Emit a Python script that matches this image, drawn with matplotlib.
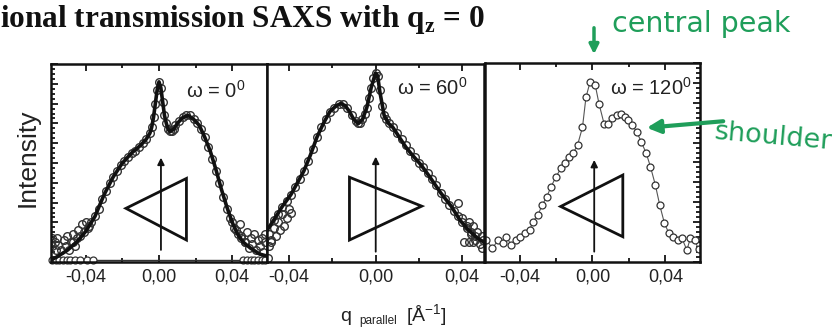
import matplotlib
matplotlib.use("Agg")
import matplotlib.pyplot as plt
from matplotlib.patches import Polygon, FancyArrowPatch
from matplotlib.ticker import MultipleLocator, FixedLocator, FuncFormatter

plt.rcParams['font.family'] = ['Liberation Sans', 'DejaVu Sans']
plt.rcParams['mathtext.fontset'] = 'custom'
plt.rcParams['mathtext.rm'] = 'Liberation Sans'
plt.rcParams['mathtext.it'] = 'Liberation Sans:italic'
plt.rcParams['mathtext.bf'] = 'Liberation Serif:bold'

# omega = 0 deg: measured points and fit
q_meas0 = [-0.047, -0.045, -0.043, -0.041, -0.039, -0.037, -0.035, -0.033, -0.031, -0.029,
           -0.027, -0.025, -0.023, -0.021, -0.019, -0.017, -0.015, -0.013, -0.011, -0.009,
           -0.007, -0.005, -0.004, -0.003, -0.002, -0.001, 0.000, 0.001, 0.002, 0.003,
           0.004, 0.005, 0.006, 0.007, 0.008, 0.009, 0.011, 0.013, 0.015, 0.017,
           0.019, 0.021, 0.023, 0.025, 0.027, 0.029, 0.031, 0.033, 0.035, 0.037,
           0.039, 0.041, 0.043, 0.045, 0.047]
i_meas0 = [0.10, 0.12, 0.13, 0.15, 0.17, 0.20, 0.23, 0.27, 0.32, 0.36,
           0.40, 0.43, 0.46, 0.49, 0.51, 0.53, 0.55, 0.56, 0.58, 0.60,
           0.62, 0.65, 0.68, 0.73, 0.80, 0.87, 0.91, 0.88, 0.81, 0.74,
           0.70, 0.67, 0.66, 0.66, 0.67, 0.69, 0.71, 0.73, 0.74, 0.74,
           0.72, 0.70, 0.67, 0.63, 0.58, 0.52, 0.46, 0.40, 0.33, 0.27,
           0.22, 0.17, 0.14, 0.12, 0.10]
q_tail0 = [-0.0585, -0.0585, -0.057, -0.0565, -0.0555, -0.055, -0.0535, -0.052, -0.051,
           -0.050, -0.049, -0.048, -0.047, -0.046, -0.044, -0.042, -0.040, -0.038,
           0.040, 0.042, 0.044, 0.045, 0.047, 0.048, 0.049, 0.050, 0.051, 0.052,
           0.053, 0.054, 0.055, 0.056, 0.057, 0.058, 0.058]
i_tail0 = [0.12, 0.08, 0.10, 0.06, 0.12, 0.085, 0.06, 0.11, 0.08,
           0.13, 0.06, 0.10, 0.14, 0.08, 0.16, 0.19, 0.20, 0.18,
           0.20, 0.16, 0.19, 0.13, 0.10, 0.15, 0.07, 0.12, 0.09, 0.14,
           0.06, 0.11, 0.08, 0.12, 0.05, 0.10, 0.14]
q_base0 = [-0.0585, -0.0565, -0.0545, -0.0525, -0.0505, -0.0485, -0.046, -0.043, -0.0395, -0.036,
           0.046, 0.048, 0.050, 0.052, 0.054, 0.056, 0.058]
i_base0 = [0.01] * 10 + [0.01] * 7
q_fit0 = [-0.059, -0.055, -0.050, -0.045, -0.040, -0.035, -0.030, -0.025, -0.020, -0.015,
          -0.010, -0.007, -0.005, -0.004, -0.003, -0.002, -0.001, 0.000, 0.001, 0.002,
          0.003, 0.004, 0.005, 0.006, 0.008, 0.010, 0.013, 0.016, 0.019, 0.022,
          0.025, 0.028, 0.031, 0.034, 0.037, 0.040, 0.043, 0.046, 0.050, 0.055, 0.059]
i_fit0 = [0.01, 0.03, 0.06, 0.10, 0.155, 0.23, 0.34, 0.43, 0.50, 0.55,
          0.59, 0.62, 0.65, 0.68, 0.73, 0.80, 0.87, 0.91, 0.88, 0.81,
          0.74, 0.70, 0.67, 0.66, 0.67, 0.70, 0.73, 0.74, 0.72, 0.69,
          0.63, 0.56, 0.47, 0.37, 0.28, 0.20, 0.14, 0.10, 0.07, 0.04, 0.03]

# omega = 60 deg
q_meas60 = [-0.047, -0.045, -0.043, -0.041, -0.039, -0.037, -0.035, -0.033, -0.031, -0.029,
            -0.027, -0.025, -0.023, -0.021, -0.019, -0.017, -0.015, -0.013, -0.011, -0.009,
            -0.008, -0.007, -0.006, -0.005, -0.004, -0.003, -0.002, -0.001, 0.000, 0.001,
            0.002, 0.003, 0.004, 0.005, 0.006, 0.008, 0.010, 0.012, 0.014, 0.016,
            0.018, 0.020, 0.022, 0.024, 0.026, 0.028, 0.030, 0.032, 0.034, 0.036,
            0.038, 0.040, 0.042, 0.044, 0.046]
i_meas60 = [0.21, 0.24, 0.28, 0.31, 0.34, 0.38, 0.42, 0.46, 0.51, 0.57,
            0.63, 0.68, 0.72, 0.76, 0.78, 0.80, 0.80, 0.78, 0.74, 0.71,
            0.70, 0.70, 0.72, 0.75, 0.78, 0.83, 0.88, 0.93, 0.955, 0.94,
            0.87, 0.79, 0.74, 0.72, 0.70, 0.68, 0.65, 0.62, 0.59, 0.56,
            0.53, 0.50, 0.48, 0.45, 0.42, 0.39, 0.35, 0.32, 0.29, 0.26,
            0.23, 0.20, 0.18, 0.15, 0.13]
q_tail60 = [-0.0495, -0.049, -0.049, -0.048, -0.048, -0.047, -0.046, -0.045, -0.044, -0.043,
            -0.042, -0.041, -0.040, -0.039,
            0.038, 0.040, 0.041, 0.042, 0.043, 0.043, 0.044, 0.045, 0.045, 0.046,
            0.047, 0.048, 0.049, 0.049, 0.0495]
i_tail60 = [0.02, 0.08, 0.14, 0.10, 0.11, 0.17, 0.13, 0.20, 0.16, 0.24,
            0.18, 0.22, 0.27, 0.25,
            0.30, 0.22, 0.10, 0.17, 0.20, 0.10, 0.14, 0.18, 0.10, 0.11,
            0.15, 0.09, 0.13, 0.07, 0.11]
q_fit60 = [-0.050, -0.047, -0.043, -0.039, -0.035, -0.033, -0.030, -0.027, -0.024, -0.021,
           -0.018, -0.016, -0.014, -0.012, -0.010, -0.008, -0.006, -0.004, -0.002, 0.000,
           0.001, 0.002, 0.004, 0.006, 0.008, 0.011, 0.014, 0.017, 0.021, 0.025,
           0.030, 0.035, 0.039, 0.043, 0.047, 0.050]
i_fit60 = [0.16, 0.21, 0.28, 0.34, 0.42, 0.46, 0.54, 0.63, 0.70, 0.76,
           0.79, 0.80, 0.79, 0.76, 0.72, 0.70, 0.72, 0.78, 0.88, 0.955,
           0.94, 0.86, 0.74, 0.70, 0.68, 0.63, 0.58, 0.54, 0.49, 0.43,
           0.35, 0.28, 0.21, 0.16, 0.12, 0.10]

# omega = 120 deg
q_meas120 = [-0.0582, -0.0549, -0.0518, -0.0491, -0.0473, -0.0446, -0.0422, -0.0400, -0.0373, -0.0345,
             -0.0327, -0.0300, -0.0276, -0.0251, -0.0227, -0.0200, -0.0173, -0.0149, -0.0127, -0.0105,
             -0.0082, -0.0055, -0.0036, -0.0013, 0.0015, 0.0036, 0.0064, 0.0087, 0.0109, 0.0133,
             0.0155, 0.0176, 0.0196, 0.0218, 0.0242, 0.0267, 0.0295, 0.0318, 0.0345, 0.0369,
             0.0395, 0.0418, 0.0442, 0.0467, 0.0491, 0.0518, 0.0537, 0.0560, 0.0582]
i_meas120 = [0.111, 0.069, 0.111, 0.094, 0.127, 0.085, 0.111, 0.127, 0.144, 0.161,
             0.203, 0.236, 0.286, 0.328, 0.379, 0.429, 0.471, 0.499, 0.529, 0.549,
             0.588, 0.677, 0.827, 0.906, 0.889, 0.794, 0.693, 0.693, 0.722, 0.739,
             0.744, 0.730, 0.714, 0.688, 0.655, 0.605, 0.546, 0.479, 0.387, 0.286,
             0.194, 0.147, 0.127, 0.111, 0.119, 0.060, 0.119, 0.111, 0.064]

W, H = 836, 331
fig = plt.figure(figsize=(W / 100, H / 100), dpi=100)


def box(left, top, right, bottom):
    return [left / W, 1 - bottom / H, (right - left) / W, (bottom - top) / H]


def px(x, y):
    # pixel position from the top-left corner -> figure fraction
    return x / W, 1 - y / H


ax0 = fig.add_axes(box(51, 64, 267, 262))
ax1 = fig.add_axes(box(267, 64, 484, 262))
ax2 = fig.add_axes(box(485, 63, 700, 262))

comma = FuncFormatter(lambda v, p: ("%.2f" % v).replace(".", ",").replace("-0,00", "0,00"))

for ax, lim in [(ax0, 0.059), (ax1, 0.050), (ax2, 0.059)]:
    ax.set_xlim(-lim, lim)
    ax.set_ylim(0, 1)
    ax.xaxis.set_major_locator(FixedLocator([-0.04, 0.0, 0.04]))
    ax.xaxis.set_minor_locator(FixedLocator([-0.02, 0.02]))
    ax.xaxis.set_major_formatter(comma)
    ax.tick_params(axis='x', which='both', direction='in', top=True, labelsize=13,
                   labelcolor='#222', pad=5, width=1.2)
    ax.tick_params(axis='x', which='major', length=5)
    ax.tick_params(axis='x', which='minor', length=3)
    ax.yaxis.set_major_locator(MultipleLocator(0.1))
    ax.yaxis.set_minor_locator(MultipleLocator(0.025))
    ax.tick_params(axis='y', which='both', direction='in', left=False, right=False,
                   labelleft=False, width=1.2)
    ax.tick_params(axis='y', which='major', length=5)
    ax.tick_params(axis='y', which='minor', length=3)
    for s in ax.spines.values():
        s.set_linewidth(1.8)
        s.set_color('#111')

ax0.tick_params(axis='y', which='both', left=True)
ax2.tick_params(axis='y', which='both', right=True)

mkw = dict(ls='none', marker='o', ms=5.5, mfc='none', mec='#333', mew=1.0)
ax0.plot(q_meas0, i_meas0, **mkw)
ax0.plot(q_tail0, i_tail0, **mkw)
ax0.plot(q_base0, i_base0, '-', color='#333', lw=1.0, marker='o', ms=5, mfc='white',
         mec='#333', mew=0.9, clip_on=False)
ax0.plot(q_fit0, i_fit0, '-', color='#111', lw=2.6)

ax1.plot(q_meas60, i_meas60, **mkw)
ax1.plot(q_tail60, i_tail60, **mkw)
ax1.plot(q_fit60, i_fit60, '-', color='#111', lw=2.6)

ax2.plot(q_meas120, i_meas120, '-', color='#555', lw=0.8, marker='o', ms=5, mfc='white',
         mec='#333', mew=0.9)

# orientation sketches: triangle with beam arrow
tri = [
    (ax0, [(0.347, 0.271), (0.627, 0.422), (0.627, 0.111)], 0.509, 0.061, 0.527),
    (ax1, [(0.380, 0.428), (0.380, 0.111), (0.713, 0.282)], 0.501, 0.052, 0.532),
    (ax2, [(0.352, 0.279), (0.641, 0.437), (0.641, 0.127)], 0.508, 0.052, 0.513),
]
for ax, verts, xa, y0, y1 in tri:
    ax.add_patch(Polygon(verts, closed=True, fill=False, ec='#111', lw=2.0,
                         transform=ax.transAxes))
    ax.annotate('', xy=(xa, y1), xytext=(xa, y0), xycoords='axes fraction',
                arrowprops=dict(arrowstyle='-|>', color='#111', lw=1.3,
                                mutation_scale=10, shrinkA=0, shrinkB=0))

ax0.text(0.90, 0.865, r'ω = 0$^{0}$', transform=ax0.transAxes, ha='right', va='center',
         fontsize=14.5, color='#222')
ax1.text(0.926, 0.88, r'ω = 60$^{0}$', transform=ax1.transAxes, ha='right', va='center',
         fontsize=14.5, color='#222')
ax2.text(0.963, 0.875, r'ω = 120$^{0}$', transform=ax2.transAxes, ha='right', va='center',
         fontsize=14.5, color='#222')

fig.text(*px(28, 158), 'Intensity', rotation=90, ha='center', va='center',
         fontsize=19, color='#222')

# axis title built from pieces: q, small "parallel", [Å^-1]
fig.text(*px(340, 321), 'q', ha='left', va='baseline', fontsize=14, color='#222')
fig.text(*px(359, 324), 'parallel', ha='left', va='baseline', fontsize=8.5, color='#222')
fig.text(*px(406, 321), r'[Å$^{-1}$]', ha='left', va='baseline', fontsize=14, color='#222')

fig.text(*px(0, 20), r'ional transmission SAXS with q$_\mathbf{z}$ = 0',
         family='Liberation Serif', weight='bold', fontsize=22.5, ha='left', va='center',
         color='#111')

# handwritten notes
green = '#1f9e5a'
fig.text(*px(612, 24), 'central peak', fontsize=20.5, color=green, ha='left',
         va='center', family='DejaVu Sans')
fig.text(*px(713, 137), 'shoulder', fontsize=19.5, color=green, ha='left',
         va='center', family='DejaVu Sans', rotation=-5)
fig.add_artist(FancyArrowPatch(px(594, 25), px(594, 57),
                               transform=fig.transFigure, arrowstyle='-|>',
                               mutation_scale=14, color=green, lw=2.5))
fig.add_artist(FancyArrowPatch(px(726, 121), px(644, 128),
                               transform=fig.transFigure, arrowstyle='-|>',
                               mutation_scale=20, color=green, lw=3))

fig.savefig('out.png', dpi=100)
